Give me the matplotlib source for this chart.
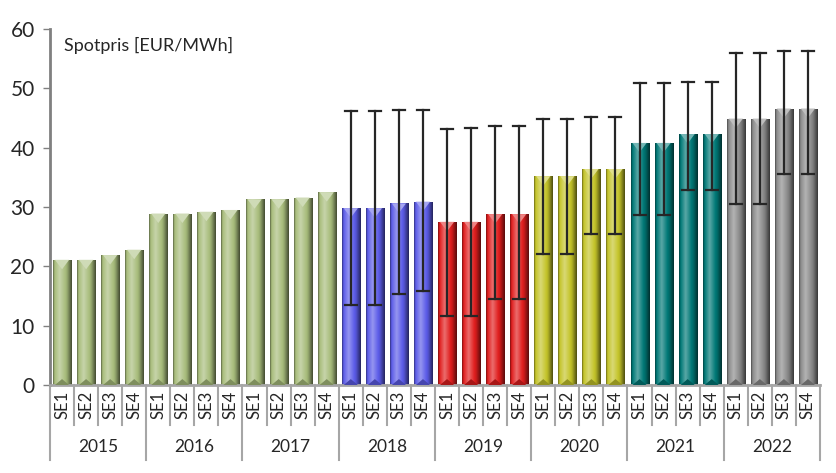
import numpy as np
import matplotlib.pyplot as plt
from matplotlib import transforms
from matplotlib.colors import to_rgb

plt.rcParams['font.family'] = ['Lato', 'DejaVu Sans']

# Data
years = ['2015', '2016', '2017', '2018', '2019', '2020', '2021', '2022']
zones = ['SE1', 'SE2', 'SE3', 'SE4']
prices = [
    [21.1, 21.1, 21.9, 22.8],
    [28.9, 28.9, 29.2, 29.5],
    [31.3, 31.3, 31.6, 32.5],
    [29.8, 29.8, 30.6, 30.9],
    [27.5, 27.5, 28.8, 28.8],
    [35.2, 35.2, 36.4, 36.4],
    [40.8, 40.8, 42.3, 42.3],
    [44.9, 44.9, 46.6, 46.6],
]
# error bar ends (None = no error bar)
err_low = [None, None, None,
           [13.5, 13.5, 15.3, 15.9],
           [11.6, 11.6, 14.5, 14.5],
           [22.0, 22.0, 25.4, 25.4],
           [28.7, 28.7, 32.9, 32.9],
           [30.5, 30.5, 35.5, 35.5]]
err_high = [None, None, None,
            [46.2, 46.2, 46.3, 46.4],
            [43.2, 43.3, 43.6, 43.6],
            [44.9, 44.9, 45.1, 45.1],
            [50.9, 50.9, 51.1, 51.1],
            [55.9, 55.9, 56.3, 56.3]]
year_colors = ['#a8bd7c', '#a8bd7c', '#a8bd7c', '#5c5ce8',
               '#e01e1e', '#c4c42a', '#007876', '#8a8a8a']

fig = plt.figure(figsize=(8.37, 4.73), dpi=100)
ax = fig.add_axes([50 / 837, 88 / 473, 770 / 837, 356 / 473])

n = len(years) * len(zones)
x = np.arange(n)
vals = np.array(prices).ravel()
cols = [c for c in year_colors for _ in zones]
width = 0.75

bars = ax.bar(x, vals, width=width, color=cols, edgecolor='none', zorder=2)

# horizontal shading to imitate the bevelled look
t = np.linspace(0, 1, 64)
shade = np.interp(t, [0, 0.08, 0.35, 0.75, 1.0], [-0.45, 0.0, 0.35, -0.1, -0.6])
for b, c in zip(bars, cols):
    base = np.array(to_rgb(c))
    img = np.empty((1, len(t), 3))
    for i, s in enumerate(shade):
        if s >= 0:
            img[0, i] = base + (1 - base) * s
        else:
            img[0, i] = base * (1 + s)
    x0, y0 = b.get_x(), b.get_y()
    w, h = b.get_width(), b.get_height()
    im = ax.imshow(img, extent=[x0, x0 + w, y0, y0 + h], aspect='auto',
                   interpolation='bilinear', zorder=2)
    im.set_clip_path(b)
    # light triangle at the top, darker one at the bottom
    tri_h = 1.6
    ax.fill([x0 + 0.08, x0 + w - 0.08, x0 + w / 2],
            [y0 + h, y0 + h, y0 + h - tri_h],
            color=base + (1 - base) * 0.45, zorder=3, lw=0)
    ax.fill([x0 + 0.08, x0 + w - 0.08, x0 + w / 2],
            [y0, y0, y0 + 1.0],
            color=base * 0.75, zorder=3, lw=0)

# error bars
for gi in range(len(years)):
    if err_low[gi] is None:
        continue
    for zi in range(len(zones)):
        xi = gi * len(zones) + zi
        ax.plot([xi, xi], [err_low[gi][zi], err_high[gi][zi]], color='#262626', lw=1.6, zorder=4)
        for yv in (err_low[gi][zi], err_high[gi][zi]):
            ax.plot([xi - 0.25, xi + 0.25], [yv, yv], color='#262626', lw=1.6, zorder=4)

ax.set_xlim(-0.5, n - 0.5)
ax.set_ylim(0, 60)
ax.set_yticks(np.arange(0, 61, 10))
ax.tick_params(axis='y', labelsize=15, length=5, width=1, color='#808080',
               pad=6, labelcolor='#262626')
ax.set_xticks([])
for s in ['top', 'right']:
    ax.spines[s].set_visible(False)
ax.spines['left'].set_color('#808080')
ax.spines['left'].set_linewidth(2)
ax.spines['bottom'].set_color('#a6a6a6')
ax.spines['bottom'].set_linewidth(2)

# two-level category axis
trans = transforms.blended_transform_factory(ax.transData, ax.transAxes)
sep_col = '#a6a6a6'
for i in range(n + 1):
    xb = i - 0.5
    y_end = -0.212 if i % len(zones) == 0 else -0.112
    ax.plot([xb, xb], [0, y_end], color=sep_col, lw=1.5, transform=trans, clip_on=False)
for i in range(n):
    ax.text(x[i], -0.017, zones[i % len(zones)], rotation=90, ha='center', va='top',
            fontsize=12, color='#262626', transform=trans)
for gi, yr in enumerate(years):
    xc = gi * len(zones) + (len(zones) - 1) / 2
    ax.text(xc, -0.175, yr, ha='center', va='center', fontsize=12.5,
            color='#262626', transform=trans)

ax.text(0.018, 0.955, 'Spotpris [EUR/MWh]', transform=ax.transAxes, fontsize=13,
        color='#262626', ha='left', va='center')

fig.savefig('out.png', dpi=100)
